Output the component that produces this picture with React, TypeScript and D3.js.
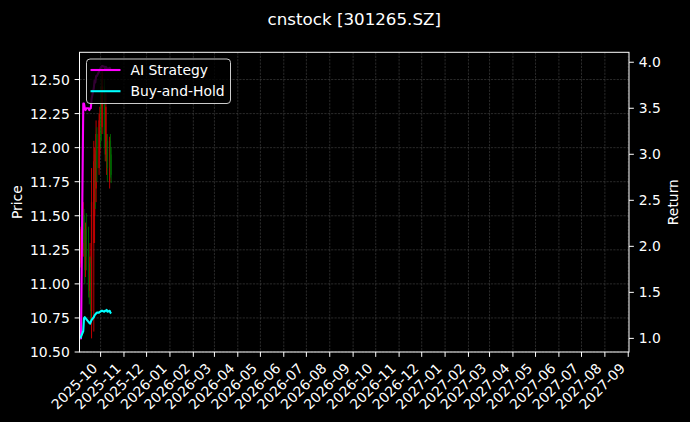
import { useRef, useEffect } from "react";
import * as d3 from "d3";

const dates = [
  "2025-09-04", "2025-09-05", "2025-09-08", "2025-09-09", "2025-09-10",
  "2025-09-11", "2025-09-12", "2025-09-15", "2025-09-16", "2025-09-17",
  "2025-09-18", "2025-09-19", "2025-09-22", "2025-09-23", "2025-09-24",
  "2025-09-25", "2025-09-26", "2025-09-29", "2025-09-30", "2025-10-01",
  "2025-10-02", "2025-10-03", "2025-10-06", "2025-10-07", "2025-10-08",
  "2025-10-09", "2025-10-10", "2025-10-13", "2025-10-14", "2025-10-15",
];
const opens = [
  11.15, 11.2, 11.25, 11.5, 11.35, 11.1, 11.4, 11.25, 11.05, 10.95,
  11.15, 10.8, 11.3, 11.5, 11.9, 11.7, 12.1, 11.85, 12.0, 12.3,
  12.4, 12.15, 12.45, 12.2, 11.95, 11.9, 12.05, 11.75, 12.05, 11.95,
];
const highs = [
  11.4, 11.42, 11.6, 11.55, 11.4, 11.45, 11.52, 11.42, 11.15, 11.3,
  11.2, 11.85, 12.05, 12.0, 11.98, 12.2, 12.15, 12.25, 12.3, 12.45,
  12.5, 12.6, 12.5, 12.3, 12.4, 12.1, 12.1, 12.08, 12.1, 12.0,
];
const lows = [
  11.12, 11.18, 11.2, 11.22, 11.0, 11.05, 11.1, 10.9, 10.85, 10.9,
  10.7, 10.6, 10.65, 11.3, 11.55, 11.6, 11.75, 11.8, 11.95, 12.0,
  12.05, 12.1, 12.0, 11.9, 11.9, 11.8, 11.75, 11.7, 11.78, 11.74,
];
const closes = [
  11.35, 11.38, 11.55, 11.3, 11.1, 11.4, 11.2, 11.0, 10.95, 11.2,
  10.8, 11.6, 11.9, 11.95, 11.7, 12.1, 11.85, 12.2, 12.25, 12.1,
  12.15, 12.45, 12.1, 11.95, 12.3, 12.05, 11.85, 12.05, 11.85, 11.8,
];
const aiStrategy = [
  1.0, 1.0, 3.55, 3.55, 3.5, 3.48, 3.5, 3.5, 3.48, 3.5,
  3.5, 3.6, 3.72, 3.8, 3.78, 3.85, 3.85, 3.9, 3.92, 3.94,
  3.95, 3.96, 3.95, 3.93, 3.95, 3.94, 3.92, 3.94, 3.93, 3.93,
];
const buyHold = [
  1.0, 1.02, 1.08, 1.22, 1.23, 1.22, 1.21, 1.18, 1.17, 1.16,
  1.18, 1.2, 1.23, 1.25, 1.26, 1.27, 1.28, 1.28, 1.29, 1.29,
  1.3, 1.3, 1.29, 1.3, 1.3, 1.31, 1.29, 1.3, 1.28, 1.27,
];
const seriesNames = ["AI Strategy", "Buy-and-Hold"];
const seriesColors = ["#ff00ff", "#00ffff"];
const priceTicks = [10.5, 10.75, 11.0, 11.25, 11.5, 11.75, 12.0, 12.25, 12.5];
const returnTicks = [1.0, 1.5, 2.0, 2.5, 3.0, 3.5, 4.0];
const xStart = "2025-09-03";
const xEnd = "2027-09-02";

const W = 690;
const H = 422;
const FONT = "DejaVu Sans, sans-serif";

const App = () => {
  const svgRef = useRef<SVGSVGElement>(null);

  useEffect(() => {
    if (!svgRef.current) return;
    const margin = { left: 79.5, right: W - 629, top: 52.3, bottom: H - 352 };
    const iw = W - margin.left - margin.right;
    const ih = H - margin.top - margin.bottom;
    const parse = d3.timeParse("%Y-%m-%d");
    const days = dates.map((d) => parse(d) as Date);

    // matplotlib style 5% padding
    const pad = (lo: number, hi: number) => {
      const r = hi - lo;
      return [lo - 0.05 * r, hi + 0.05 * r];
    };

    const x = d3
      .scaleTime()
      .domain([parse(xStart) as Date, parse(xEnd) as Date])
      .range([0, iw]);
    const yP = d3
      .scaleLinear()
      .domain(pad(d3.min(lows) as number, d3.max(highs) as number))
      .range([ih, 0]);
    const allRet = [...aiStrategy, ...buyHold];
    const yR = d3
      .scaleLinear()
      .domain(pad(d3.min(allRet) as number, d3.max(allRet) as number))
      .range([ih, 0]);

    const svg = d3.select(svgRef.current);
    svg.selectAll("*").remove();
    svg.append("rect").attr("width", W).attr("height", H).attr("fill", "#000");

    const g = svg
      .append("g")
      .attr("transform", `translate(${margin.left},${margin.top})`);

    const monthTicks = d3.timeMonth.range(
      new Date(2025, 9, 1),
      new Date(2027, 8, 2)
    );

    // grid
    const grid = g.append("g").attr("stroke", "#808080").attr("stroke-opacity", 0.55)
      .attr("stroke-width", 0.6).attr("stroke-dasharray", "2.2,1.2");
    grid.selectAll("line.v").data(monthTicks).enter().append("line")
      .attr("x1", (d) => x(d)).attr("x2", (d) => x(d)).attr("y1", 0).attr("y2", ih);
    grid.selectAll("line.h").data(priceTicks).enter().append("line")
      .attr("x1", 0).attr("x2", iw).attr("y1", (d) => yP(d)).attr("y2", (d) => yP(d));

    // candles
    const dayW = x(new Date(2025, 9, 2)) - x(new Date(2025, 9, 1));
    const candles = g.append("g").attr("opacity", 0.75);
    days.forEach((d, i) => {
      const up = closes[i] >= opens[i];
      const col = up ? "#ff0000" : "#008000";
      const cx = x(d);
      candles.append("line")
        .attr("x1", cx).attr("x2", cx)
        .attr("y1", yP(highs[i])).attr("y2", yP(lows[i]))
        .attr("stroke", col).attr("stroke-width", 1);
      const top = yP(Math.max(opens[i], closes[i]));
      const bot = yP(Math.min(opens[i], closes[i]));
      candles.append("rect")
        .attr("x", cx - dayW * 0.9).attr("width", dayW * 1.8)
        .attr("y", top).attr("height", Math.max(0.5, bot - top))
        .attr("fill", col);
    });

    // return lines
    [aiStrategy, buyHold].forEach((vals, k) => {
      const line = d3
        .line<number>()
        .x((_, i) => x(days[i]))
        .y((v) => yR(v));
      g.append("path")
        .attr("d", line(vals))
        .attr("fill", "none")
        .attr("stroke", seriesColors[k])
        .attr("stroke-width", 2.1)
        .attr("stroke-linejoin", "round");
    });

    // spines
    g.append("rect").attr("width", iw).attr("height", ih)
      .attr("fill", "none").attr("stroke", "#fff").attr("stroke-width", 1);

    const tickLen = 4.86;
    const fs = 13.9;
    // left ticks
    priceTicks.forEach((t) => {
      const yy = yP(t);
      g.append("line").attr("x1", -tickLen).attr("x2", 0).attr("y1", yy).attr("y2", yy)
        .attr("stroke", "#fff");
      g.append("text").attr("x", -tickLen - 4.86).attr("y", yy).attr("dy", "0.36em")
        .attr("text-anchor", "end").attr("fill", "#fff")
        .style("font", `${fs}px ${FONT}`).text(t.toFixed(2));
    });
    // right ticks
    returnTicks.forEach((t) => {
      const yy = yR(t);
      g.append("line").attr("x1", iw).attr("x2", iw + tickLen).attr("y1", yy).attr("y2", yy)
        .attr("stroke", "#fff");
      g.append("text").attr("x", iw + tickLen + 4.86).attr("y", yy).attr("dy", "0.36em")
        .attr("text-anchor", "start").attr("fill", "#fff")
        .style("font", `${fs}px ${FONT}`).text(t.toFixed(1));
    });
    // bottom ticks
    const fmt = d3.timeFormat("%Y-%m");
    monthTicks.forEach((t) => {
      const xx = x(t);
      g.append("line").attr("x1", xx).attr("x2", xx).attr("y1", ih).attr("y2", ih + tickLen)
        .attr("stroke", "#fff");
      g.append("text")
        .attr("transform", `translate(${xx - 2.3},${ih + tickLen * 2 + 7.5}) rotate(-45)`)
        .attr("text-anchor", "end").attr("fill", "#fff")
        .style("font", `${fs}px ${FONT}`).text(fmt(t));
    });

    // axis labels + title
    svg.append("text").attr("transform", `translate(22,${margin.top + ih / 2}) rotate(-90)`)
      .attr("text-anchor", "middle").attr("fill", "#fff")
      .style("font", `${fs}px ${FONT}`).text("Price");
    svg.append("text").attr("transform", `translate(678,${margin.top + ih / 2}) rotate(-90)`)
      .attr("text-anchor", "middle").attr("fill", "#fff")
      .style("font", `${fs}px ${FONT}`).text("Return");
    svg.append("text").attr("x", margin.left + iw / 2).attr("y", 25)
      .attr("text-anchor", "middle").attr("fill", "#fff")
      .style("font", `16.7px ${FONT}`).text("cnstock [301265.SZ]");

    // legend
    const lg = svg.append("g").attr("transform", "translate(86.5,59)");
    lg.append("rect").attr("width", 144).attr("height", 44.5).attr("rx", 3.5)
      .attr("fill", "#000").attr("fill-opacity", 0.8)
      .attr("stroke", "#ccc").attr("stroke-width", 1);
    seriesNames.forEach((name, k) => {
      const yy = 11 + k * 21.2;
      lg.append("line").attr("x1", 4).attr("x2", 34).attr("y1", yy).attr("y2", yy)
        .attr("stroke", seriesColors[k]).attr("stroke-width", 2.1);
      lg.append("text").attr("x", 44).attr("y", yy).attr("dy", "0.36em")
        .attr("fill", "#fff").style("font", `${fs}px ${FONT}`).text(name);
    });
  }, []);

  return (
    <svg
      ref={svgRef}
      width={W}
      height={H}
      style={{ position: "fixed", left: 0, top: 0, display: "block" }}
    />
  );
};

export default App;
